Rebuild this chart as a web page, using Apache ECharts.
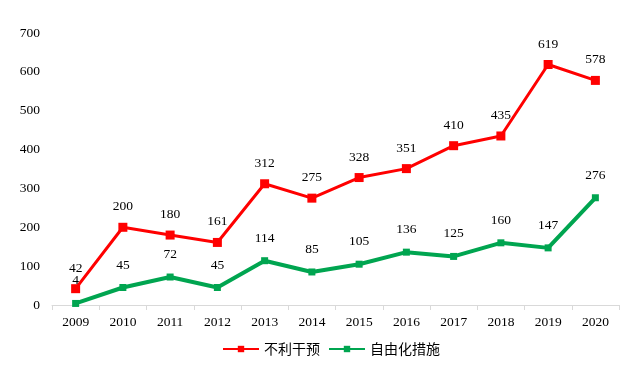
<!DOCTYPE html>
<html><head><meta charset="utf-8">
<script src="https://cdn.jsdelivr.net/npm/echarts@6/dist/echarts.min.js"></script>
<style>html,body{margin:0;padding:0;background:#fff}#c{width:631px;height:367px}</style>
</head><body><div id="c"></div>
<script>
const categories = ['2009','2010','2011','2012','2013','2014','2015','2016','2017','2018','2019','2020'];
const seriesNames = ['不利干预','自由化措施'];
const adverse = [42,200,180,161,312,275,328,351,410,435,619,578];
const liberal = [4,45,72,45,114,85,105,136,125,160,147,276];
const yTicks = [0,100,200,300,400,500,600,700];

const numFont = '"Liberation Serif","DejaVu Serif",serif';
const chart = echarts.init(document.getElementById('c'));
chart.setOption({
  animation:false,
  grid:{left:52,right:12,top:33,bottom:62},
  legend:{
    bottom:6,left:217,itemWidth:36,itemHeight:8,itemGap:8,
    textStyle:{fontFamily:'"Noto Sans CJK SC",sans-serif',fontSize:14,color:'#000'},
    data:seriesNames
  },
  xAxis:{
    type:'category',data:categories,boundaryGap:true,
    axisLine:{lineStyle:{color:'#d9d9d9'}},
    axisTick:{show:true,length:5,lineStyle:{color:'#d9d9d9'}},
    axisLabel:{color:'#000',fontFamily:numFont,fontSize:13.5,margin:10}
  },
  yAxis:{
    type:'value',min:yTicks[0],max:yTicks[yTicks.length-1],interval:100,
    axisLine:{show:false},axisTick:{show:false},splitLine:{show:false},
    axisLabel:{color:'#000',fontFamily:numFont,fontSize:13.5,margin:12}
  },
  series:[
    {name:seriesNames[0],type:'line',data:adverse,symbol:'rect',symbolSize:9,
     lineStyle:{color:'#ff0000',width:3},itemStyle:{color:'#ff0000'},
     label:{show:true,position:'top',distance:9,color:'#000',fontFamily:numFont,fontSize:13.5}},
    {name:seriesNames[1],type:'line',data:liberal,symbol:'rect',symbolSize:7,
     lineStyle:{color:'#00a550',width:4},itemStyle:{color:'#00a550'},
     label:{show:true,position:'top',distance:12,color:'#000',fontFamily:numFont,fontSize:13.5}}
  ]
});
</script></body></html>
